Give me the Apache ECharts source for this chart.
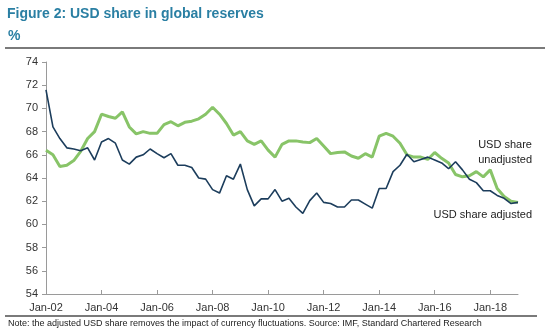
<!DOCTYPE html>
<html>
<head>
<meta charset="utf-8">
<script src="https://cdn.jsdelivr.net/npm/echarts@6/dist/echarts.min.js"></script>
<style>
  html, body { margin: 0; padding: 0; background: #fff; }
  #chart { width: 550px; height: 336px; }
</style>
</head>
<body>
<div id="chart"></div>
<script>
// Quarterly USD share of allocated global reserves, Q1 2002 to Q1 2019 (%)
const usdUnadjusted = [
  66.4, 66.0, 65.0, 65.1, 65.5, 66.3, 67.4, 68.0,
  69.5, 69.3, 69.15, 69.7, 68.4, 67.8, 68.0, 67.85,
  67.85, 68.6, 68.85, 68.5, 68.8, 68.9, 69.1, 69.5,
  70.1, 69.5, 68.7, 67.7, 68.0, 67.2, 66.9, 67.2,
  66.4, 65.8, 66.9, 67.2, 67.2, 67.1, 67.05, 67.4,
  66.75, 66.1, 66.2, 66.25, 65.9, 65.7, 66.1, 65.8,
  67.6, 67.85, 67.6, 67.0, 66.0, 65.8, 65.8, 65.6,
  66.2, 65.7, 65.3, 64.3, 64.1, 64.2, 64.55, 64.1,
  64.7, 63.1, 62.4, 62.0, 61.9
];
const usdAdjusted = [
  71.6, 68.4, 67.4, 66.6, 66.5, 66.35, 66.6, 65.55,
  67.1, 67.4, 67.0, 65.55, 65.2, 65.8, 66.0, 66.5,
  66.1, 65.75, 66.1, 65.1, 65.1, 64.9, 64.0, 63.9,
  63.0, 62.7, 64.2, 63.9, 65.2, 63.0, 61.6, 62.2,
  62.2, 63.0, 62.0, 62.25, 61.5, 60.95, 62.05, 62.7,
  61.9, 61.8, 61.5, 61.5, 62.1, 62.1, 61.75, 61.4,
  63.1, 63.1, 64.55, 65.1, 66.05, 65.4, 65.6, 65.8,
  65.55, 65.3, 64.8, 65.4, 64.7, 63.9, 63.6, 62.9,
  62.9, 62.5, 62.25, 61.8, 61.9
];
const quarterMonths = ['Jan', 'Apr', 'Jul', 'Oct'];
const firstYear = 2002;
const yTicks = { min: 54, max: 74, step: 2 };
const seriesLabels = { unadjusted: ['USD share', 'unadjusted'], adjusted: 'USD share adjusted' };
const titleText = 'Figure 2: USD share in global reserves';
const unitText = '%';
const noteText = 'Note: the adjusted USD share removes the impact of currency fluctuations. Source: IMF, Standard Chartered Research';

// quarter labels such as "Jan-02", "Apr-02", ...
const quarters = usdAdjusted.map(function (_, i) {
  const yr = firstYear + Math.floor(i / 4);
  return quarterMonths[i % 4] + '-' + String(yr % 100).padStart(2, '0');
});

const FONT = '"Liberation Sans", Arial, sans-serif';
const chart = echarts.init(document.getElementById('chart'), null, { renderer: 'canvas' });

chart.setOption({
  animation: false,
  backgroundColor: '#ffffff',
  grid: { left: 46, right: 32, top: 62, bottom: 42, containLabel: false },
  xAxis: {
    type: 'category',
    data: quarters,
    boundaryGap: false,
    axisLine: { lineStyle: { color: '#9a9a9a', width: 1 } },
    axisTick: { show: true, inside: true, length: 4, interval: 7, lineStyle: { color: '#9a9a9a' } },
    axisLabel: { interval: 7, color: '#333', fontFamily: FONT, fontSize: 11, margin: 8 },
    splitLine: { show: false }
  },
  yAxis: {
    type: 'value',
    min: yTicks.min,
    max: yTicks.max,
    interval: yTicks.step,
    axisLine: { show: true, lineStyle: { color: '#9a9a9a', width: 1 } },
    axisTick: { show: true, length: 4, lineStyle: { color: '#9a9a9a' } },
    axisLabel: { color: '#333', fontFamily: FONT, fontSize: 11, margin: 8 },
    splitLine: { show: false }
  },
  series: [
    {
      name: 'USD share unadjusted',
      type: 'line',
      data: usdUnadjusted,
      showSymbol: false,
      lineStyle: { color: '#88c468', width: 3 },
      z: 2
    },
    {
      name: 'USD share adjusted',
      type: 'line',
      data: usdAdjusted,
      showSymbol: false,
      lineStyle: { color: '#1c3d5c', width: 1.6 },
      z: 3
    }
  ],
  graphic: [
    { type: 'text', left: 7, top: 7,
      style: { text: titleText, fill: '#2a7fa3', font: 'bold 14px ' + FONT } },
    { type: 'text', left: 8, top: 29,
      style: { text: unitText, fill: '#2a7fa3', font: 'bold 14px ' + FONT } },
    { type: 'rect', shape: { x: 5, y: 47, width: 540, height: 2 },
      style: { fill: '#7a7a7a' } },
    { type: 'rect', shape: { x: 5, y: 315, width: 532, height: 2 },
      style: { fill: '#7a7a7a' } },
    { type: 'text', left: 8, top: 319,
      style: { text: noteText, fill: '#222', font: '9px ' + FONT } },
    { type: 'text', right: 18, top: 137,
      style: { text: seriesLabels.unadjusted.join('\n'), fill: '#222', font: '11px ' + FONT,
               align: 'center', lineHeight: 15 } },
    { type: 'text', right: 18, top: 209,
      style: { text: seriesLabels.adjusted, fill: '#222', font: '11px ' + FONT } }
  ]
});
</script>
</body>
</html>
